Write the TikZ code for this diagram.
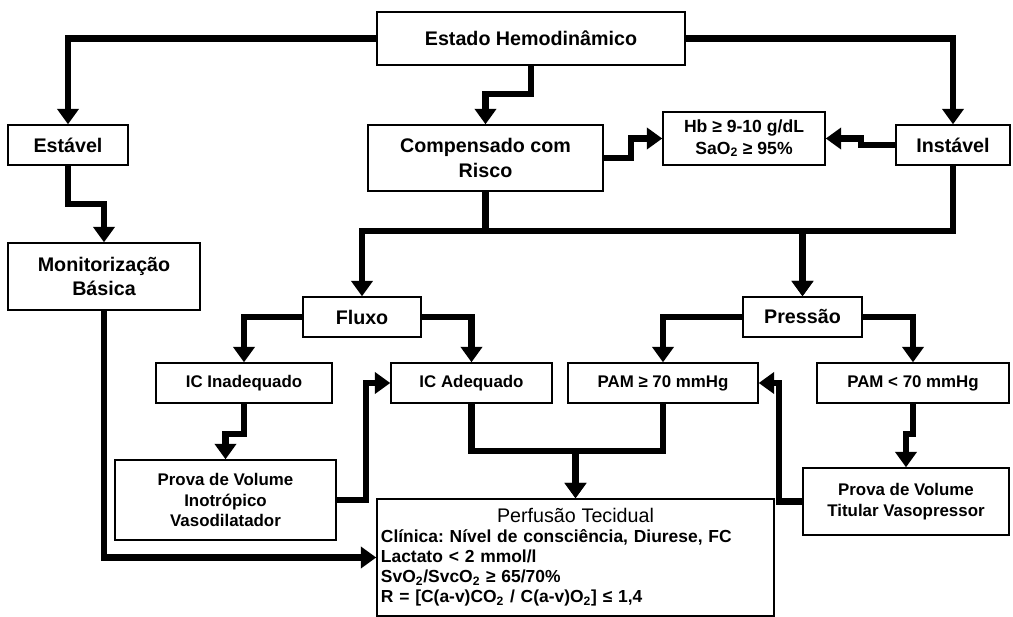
\documentclass[tikz,border=0pt]{standalone}
\usepackage{fontspec}
\setmainfont{Liberation Sans}
\usetikzlibrary{arrows.meta}
\frenchspacing
\begin{document}
\begin{tikzpicture}[x=0.025cm,y=-0.025cm,
  box/.style={draw,line width=1pt,align=center,inner sep=0pt,font=\bfseries\fontsize{14}{17.7}\selectfont},
  small/.style={font=\bfseries\fontsize{12}{14.8}\selectfont},
  conn/.style={line width=4.3pt,-{Triangle[length=11pt,width=15pt]}}]
\useasboundingbox (0,0) rectangle (1013,617);
% top level
\node[box,minimum width=7.7cm,minimum height=1.325cm] (estado) at (531,38.5) {Estado Hemodinâmico};
\node[box,minimum width=3cm,minimum height=1cm] (estavel) at (68,145) {Estável};
\node[box,minimum width=5.875cm,minimum height=1.65cm] (comp) at (485.5,158) {Compensado com\\Risco};
\node[box,small,minimum width=4.05cm,minimum height=1.325cm,font=\bfseries\fontsize{12.5}{15}\selectfont] (hb) at (744,138.5) {Hb ≥ 9-10 g/dL\\SaO\textsubscript{2} ≥ 95\%};
\node[box,minimum width=2.85cm,minimum height=1cm] (instavel) at (953,145) {Instável};
\node[box,minimum width=4.8cm,minimum height=1.675cm] (monit) at (104,276.5) {Monitorização\\Básica};
% fluxo / pressao
\node[box,minimum width=2.95cm,minimum height=1cm] (fluxo) at (362,317) {Fluxo};
\node[box,minimum width=2.975cm,minimum height=1cm] (pressao) at (802.5,317) {Pressão};
\node[box,small,minimum width=4.4cm,minimum height=1cm] (icinad) at (244,383) {IC Inadequado};
\node[box,small,minimum width=4.025cm,minimum height=1cm] (icad) at (471.5,383) {IC Adequado};
\node[box,small,minimum width=4.75cm,minimum height=1cm] (pamge) at (663,383) {PAM ≥ 70 mmHg};
\node[box,small,minimum width=4.8cm,minimum height=1cm] (pamlt) at (913,383) {PAM < 70 mmHg};
\node[box,small,minimum width=5.525cm,minimum height=2cm] (prova) at (225.5,500) {Prova de Volume\\Inotrópico\\Vasodilatador};
\node[box,small,minimum width=5.15cm,minimum height=1.675cm] (titular) at (906,501.5) {Prova de Volume\\Titular Vasopressor};
% perfusao
\node[box,small,align=left,text width=9.725cm,inner xsep=0.1cm,minimum height=2.925cm,font=\bfseries\fontsize{12.4}{14.2}\selectfont] (perf) at (575.5,557.5)
  {\makebox[\linewidth]{\mdseries\fontsize{14}{16}\selectfont Perfusão Tecidual}\\
   Clínica: Nível de consciência, Diurese, FC\\
   Lactato < 2 mmol/l\\
   SvO\textsubscript{2}/SvcO\textsubscript{2} ≥ 65/70\%\\
   R = [C(a-v)CO\textsubscript{2} / C(a-v)O\textsubscript{2}] ≤ 1,4};
% connectors
\draw[conn] (estado.west) -| (estavel.north);
\draw[conn] (estado.east) -| (instavel.north);
\draw[conn] (estado.south) -- ++(0,28) -| (comp.north);
\draw[conn] (comp.east) -- ++(27,0) |- (hb.west);
\draw[conn] (instavel.west) -- ++(-34,0) |- (hb.east);
\draw[conn] (estavel.south) -- ++(0,38) -| (monit.north);
\draw[conn] (monit.south) |- (perf.west);
\draw[conn] (comp.south) -- ++(0,39) -| (fluxo.north);
\draw[conn] (comp.south) -- ++(0,39) -| (pressao.north);
\draw[conn] (instavel.south) -- ++(0,65) -| (pressao.north);
\draw[conn] (fluxo.west) -| (icinad.north);
\draw[conn] (fluxo.east) -| (icad.north);
\draw[conn] (pressao.west) -| (pamge.north);
\draw[conn] (pressao.east) -| (pamlt.north);
\draw[conn] (icinad.south) -- ++(0,30) -| (prova.north);
\draw[conn] (prova.east) -- ++(29,0) |- (icad.west);
\draw[conn] (icad.south) -- ++(0,47) -| (perf.north);
\draw[conn] (pamge.south) -- ++(0,47) -| (perf.north);
\draw[conn] (pamlt.south) -- ++(0,30) -| (titular.north);
\draw[conn] (titular.west) -- ++(-23,0) |- (pamge.east);
\end{tikzpicture}
\end{document}
